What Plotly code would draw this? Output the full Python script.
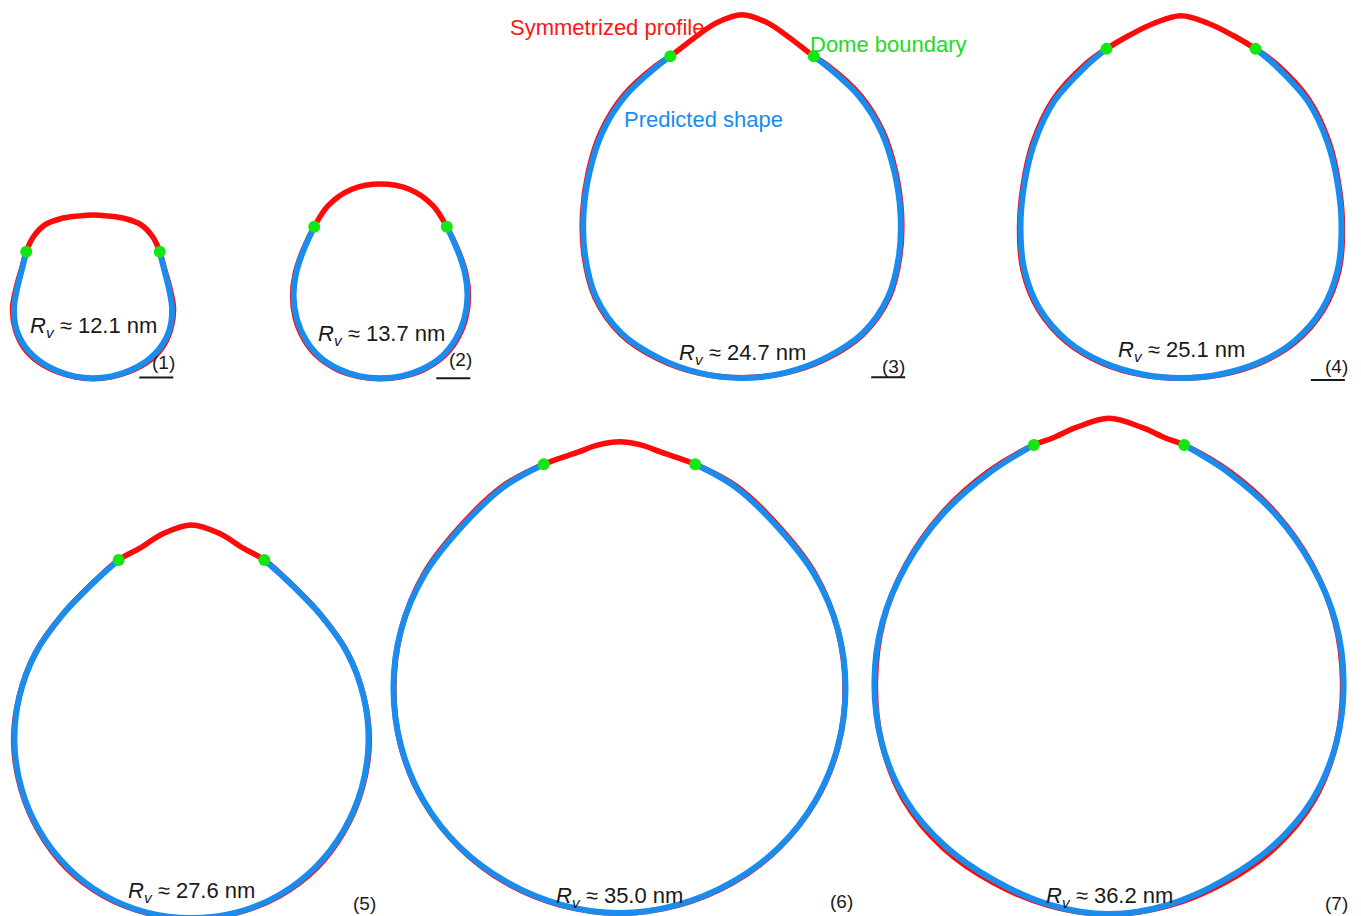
import math
import plotly.graph_objects as go

# ---------------- data ----------------
# Each vesicle profile is axisymmetric; it is given as radius r (nm) from the vesicle's centre
# at polar angle theta (degrees, 0 = bottom pole, 180 = apex).
rv_values = [12.1, 13.7, 24.7, 25.1, 27.6, 35.0, 36.2]
panel_labels = ["(1)", "(2)", "(3)", "(4)", "(5)", "(6)", "(7)"]

theta_1 = [0, 15, 30, 45, 60, 75, 90, 105, 120, 130.3, 140, 150, 160, 170, 180]
pred_r_1 = [10.29, 10.37, 10.59, 11.03, 11.47, 11.69, 11.62, 11.54, 11.99, 12.87]
sym_r_1 = [10.37, 10.44, 10.74, 11.25, 11.69, 11.84, 11.84, 11.69, 12.06, 12.87, 13.68, 14.16, 14.01, 13.76, 13.72]

theta_2 = [0, 15, 30, 45, 60, 75, 90, 105, 120, 136.4, 150, 165, 180]
pred_r_2 = [12.06, 12.15, 12.35, 12.63, 12.72, 12.75, 12.79, 12.87, 13.16, 14.13]
sym_r_2 = [12.13, 12.21, 12.50, 12.79, 12.91, 12.94, 12.94, 12.99, 13.24, 14.13, 15.41, 16.29, 16.51]

theta_3 = [0, 15, 30, 45, 60, 75, 90, 105, 120, 135, 150, 155.4, 165, 172.5, 180]
pred_r_3 = [24.26, 24.34, 24.60, 25.05, 24.78, 23.90, 23.30, 23.21, 23.72, 24.31, 24.94, 25.34]
sym_r_3 = [24.22, 24.38, 24.75, 25.20, 24.95, 24.05, 23.45, 23.40, 23.93, 24.55, 25.10, 25.34, 26.74, 28.24, 29.16]

theta_4 = [0, 15, 30, 45, 60, 75, 90, 105, 120, 135, 150, 157.4, 165, 172.5, 180]
pred_r_4 = [22.06, 22.26, 22.85, 23.55, 23.95, 23.85, 23.60, 23.90, 24.93, 26.37, 27.65, 28.53]
sym_r_4 = [22.08, 22.35, 23.00, 23.75, 24.15, 24.05, 23.75, 24.05, 25.15, 26.62, 27.90, 28.53, 29.34, 30.37, 31.22]

theta_5 = [0, 15, 30, 45, 60, 75, 90, 105, 120, 135, 150, 158.3, 165, 172.5, 180]
pred_r_5 = [25.74, 25.78, 25.81, 25.81, 25.81, 25.88, 26.03, 26.21, 26.47, 26.74, 27.79, 28.97]
sym_r_5 = [25.78, 25.85, 25.95, 26.02, 25.95, 25.98, 26.15, 26.25, 26.50, 26.80, 27.85, 28.97, 29.63, 31.10, 32.06]

theta_6 = [0, 15, 30, 45, 60, 75, 90, 105, 120, 135, 150, 161.3, 170, 175, 180]
pred_r_6 = [33.09, 33.01, 33.01, 33.16, 33.24, 33.24, 33.24, 33.24, 33.16, 33.16, 34.12, 34.74]
sym_r_6 = [33.12, 33.10, 33.15, 33.22, 33.30, 33.28, 33.18, 33.22, 33.30, 33.35, 34.30, 34.74, 35.22, 35.88, 36.22]

theta_7 = [0, 15, 30, 45, 60, 75, 90, 105, 120, 135, 150, 162.4, 167, 172.5, 180]
pred_r_7 = [34.12, 33.90, 33.70, 34.10, 34.55, 34.60, 34.50, 34.47, 34.41, 34.74, 35.44, 36.57]
sym_r_7 = [34.16, 34.05, 34.05, 34.50, 34.80, 34.60, 34.35, 34.38, 34.50, 34.90, 35.65, 36.57, 36.84, 37.72, 38.78]

SCALE_BAR_NM = 5.0

thetas = [theta_1, theta_2, theta_3, theta_4, theta_5, theta_6, theta_7]
pred_rs = [pred_r_1, pred_r_2, pred_r_3, pred_r_4, pred_r_5, pred_r_6, pred_r_7]
sym_rs = [sym_r_1, sym_r_2, sym_r_3, sym_r_4, sym_r_5, sym_r_6, sym_r_7]

# ---------------- layout (placement on a common nm canvas) ----------------
PX_PER_NM = 6.8
FIG_W, FIG_H = 1361, 916
X_RANGE = [0, FIG_W / PX_PER_NM]
Y_RANGE = [0, FIG_H / PX_PER_NM]

centers = [(13.68, 89.37), (55.96, 91.13), (109.12, 103.38), (173.68, 101.18),
           (28.16, 25.44), (91.10, 33.53), (163.09, 34.41)]
# offsets relative to each vesicle's bottom pole
rv_label_off = [(0, 7.6), (0.1, 6.4), (0.1, 3.6), (0.1, 3.9), (0, 3.9), (0, 2.4), (0, 2.5)]
num_label_off = [(10.3, 2.3), (11.7, 2.7), (22.3, 1.7), (22.9, 1.7), (25.5, 2.2), (32.7, 1.7), (33.5, 1.6)]
bar_off = [(6.8, 0.1), (8.2, 0.0), (19.0, 0.1), (19.1, -0.3), None, None, None]

RED = "#FF0A0A"
BLUE = "#1A8CEE"
GREEN = "#14E614"
TXT = "#1A1A1A"
FONT = "Liberation Sans, Arial, sans-serif"


def polar_closed(theta, radii, cx, cy):
    """Full symmetric outline: left side from the last angle down to the bottom pole, then up the right side."""
    n = len(radii)
    th = theta[:n]
    right = [(r * math.sin(math.radians(t)), -r * math.cos(math.radians(t))) for t, r in zip(th, radii)]
    pts = [(-x, y) for x, y in reversed(right)] + right[1:]
    return [cx + x for x, y in pts], [cy + y for x, y in pts]


fig = go.Figure()

for th, rr, (cx, cy) in zip(thetas, sym_rs, centers):
    xs, ys = polar_closed(th, rr, cx, cy)
    fig.add_trace(go.Scatter(x=xs, y=ys, mode="lines",
                             line=dict(color=RED, width=5.5, shape="spline", smoothing=1.0),
                             hoverinfo="skip", showlegend=False))

for th, rr, (cx, cy) in zip(thetas, pred_rs, centers):
    xs, ys = polar_closed(th, rr, cx, cy)
    fig.add_trace(go.Scatter(x=xs, y=ys, mode="lines",
                             line=dict(color=BLUE, width=6, shape="spline", smoothing=1.0),
                             hoverinfo="skip", showlegend=False))

gx, gy = [], []
for th, rr, (cx, cy) in zip(thetas, pred_rs, centers):
    t, r = math.radians(th[len(rr) - 1]), rr[-1]
    gx += [cx - r * math.sin(t), cx + r * math.sin(t)]
    gy += [cy - r * math.cos(t)] * 2
fig.add_trace(go.Scatter(x=gx, y=gy, mode="markers",
                         marker=dict(color=GREEN, size=12, line=dict(width=0)),
                         hoverinfo="skip", showlegend=False))

annotations = []
for i, (cx, cy) in enumerate(centers):
    ox, oy = cx, cy - pred_rs[i][0]  # bottom pole
    lx, ly = rv_label_off[i]
    annotations.append(dict(x=ox + lx, y=oy + ly, xref="x", yref="y", showarrow=False,
                            text=f"<i>R<sub>v</sub></i> ≈ {rv_values[i]:.1f} nm",
                            font=dict(family=FONT, size=22, color=TXT),
                            xanchor="center", yanchor="middle"))
    nx, ny = num_label_off[i]
    annotations.append(dict(x=ox + nx, y=oy + ny, xref="x", yref="y", showarrow=False,
                            text=panel_labels[i], font=dict(family=FONT, size=19, color=TXT),
                            xanchor="center", yanchor="middle"))
    if bar_off[i] is not None:
        bx0, byy = bar_off[i]
        fig.add_trace(go.Scatter(x=[ox + bx0, ox + bx0 + SCALE_BAR_NM], y=[oy + byy, oy + byy],
                                 mode="lines", line=dict(color=TXT, width=2),
                                 hoverinfo="skip", showlegend=False))

legend_texts = [
    dict(x=89.2, y=130.6, text="Symmetrized profile", font=dict(family=FONT, size=22, color="#FF1414")),
    dict(x=130.7, y=128.2, text="Dome boundary", font=dict(family=FONT, size=22, color="#1EDC1E")),
    dict(x=103.5, y=117.2, text="Predicted shape", font=dict(family=FONT, size=22, color=BLUE)),
]
for a in legend_texts:
    a.update(xref="x", yref="y", showarrow=False, xanchor="center", yanchor="middle")
annotations += legend_texts

fig.update_layout(
    width=FIG_W, height=FIG_H,
    margin=dict(l=0, r=0, t=0, b=0),
    paper_bgcolor="white", plot_bgcolor="white",
    xaxis=dict(range=X_RANGE, visible=False, showgrid=False, zeroline=False, fixedrange=True),
    yaxis=dict(range=Y_RANGE, visible=False, showgrid=False, zeroline=False, fixedrange=True),
    annotations=annotations,
    showlegend=False,
)

fig.write_html(
    "out.html",
    config={"displayModeBar": False},
    post_script="document.body.style.margin='0';document.body.style.padding='0';"
                "document.body.style.overflow='hidden';",
)
